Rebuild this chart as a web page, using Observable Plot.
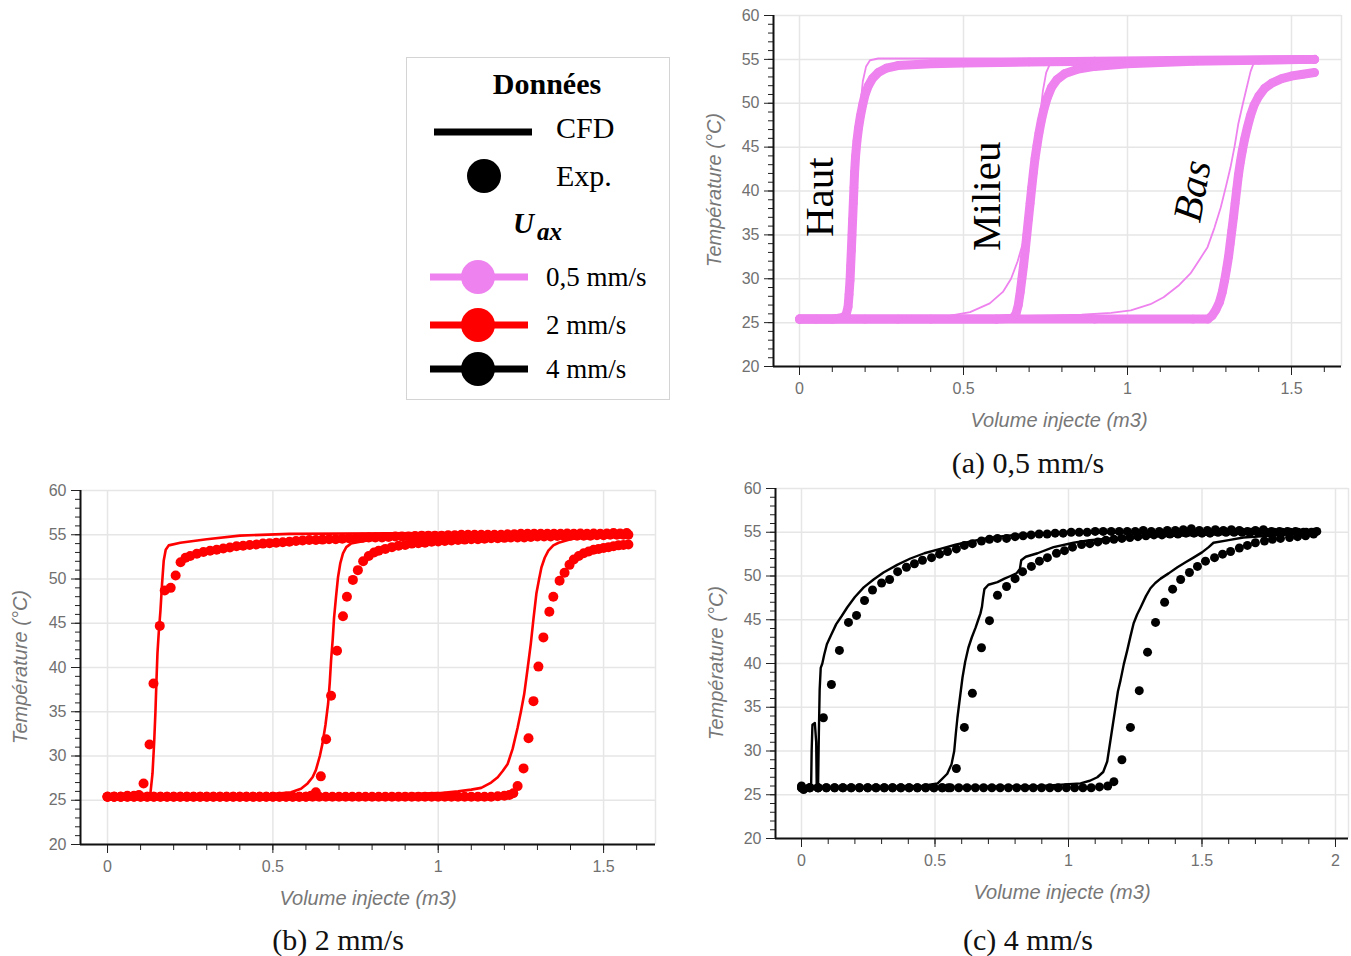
<!DOCTYPE html>
<html>
<head>
<meta charset="utf-8">
<script src="https://cdn.jsdelivr.net/npm/d3@7"></script>
<script src="https://cdn.jsdelivr.net/npm/@observablehq/plot@0.6"></script>
<style>
  body { margin: 0; background: #fff; }
  #root { position: relative; width: 1351px; height: 956px; overflow: hidden; background: #fff; }
  .pane { position: absolute; }
  .atitle { position: absolute; font-family: "Liberation Sans", Arial, sans-serif; font-style: italic; font-size: 20px; color: #777; white-space: nowrap; transform: translate(-50%, -50%); }
  .ytitle { transform: translate(-50%, -50%) rotate(-90deg); }
  .cap { position: absolute; font-family: "Liberation Serif", "Times New Roman", serif; font-size: 30px; color: #111; white-space: nowrap; transform: translate(-50%, -50%); }
</style>
</head>
<body>
<div id="root"></div>
<script>
// ---------------- DATA ----------------
const positions = ["Haut", "Milieu", "Bas"];
const yTicks = [20, 25, 30, 35, 40, 45, 50, 55, 60];
const yMinor = [20,21,22,23,24,25,26,27,28,29,30,31,32,33,34,35,36,37,38,39,40,41,42,43,44,45,46,47,48,49,50,51,52,53,54,55,56,57,58,59,60];
const xTicksAB = [0, 0.5, 1, 1.5];
const xMinorAB = [0,0.1,0.2,0.3,0.4,0.5,0.6,0.7,0.8,0.9,1,1.1,1.2,1.3,1.4,1.5,1.6];
const xTicksC = [0, 0.5, 1, 1.5, 2];
const xMinorC = [0,0.1,0.2,0.3,0.4,0.5,0.6,0.7,0.8,0.9,1,1.1,1.2,1.3,1.4,1.5,1.6,1.7,1.8,1.9,2];

// (a) 0,5 mm/s  — [volume injecte (m3), temperature (°C)]
const aHautCfd = [[0,25.7],[0.05,25.7],[0.1,25.8],[0.13,26],[0.145,26.6],[0.155,28],[0.162,32],[0.168,37],[0.173,41.5],[0.178,45.5],[0.185,49.5],[0.193,52.5],[0.203,54.2],[0.215,54.9],[0.24,55.1],[0.5,55.1],[1,55.1],[1.57,55.1]];
const aHautExp = [[0,25.4],[0.05,25.4],[0.1,25.4],[0.13,25.5],[0.142,25.9],[0.148,26.8],[0.151,28.2],[0.154,29.8],[0.156,31.5],[0.158,33.2],[0.16,35],[0.162,36.8],[0.164,38.6],[0.166,40.4],[0.168,42.2],[0.171,44],[0.175,45.7],[0.18,47.2],[0.186,48.6],[0.193,49.9],[0.2,51],[0.21,52],[0.222,52.8],[0.24,53.5],[0.265,54],[0.3,54.3],[0.4,54.5],[0.5,54.6],[0.7,54.7],[0.9,54.8],[1.2,54.9],[1.57,55]];
const aMilieuCfd = [[0,25.7],[0.3,25.7],[0.46,25.8],[0.52,26.2],[0.58,27.2],[0.62,28.5],[0.645,30],[0.665,32],[0.683,34.3],[0.697,37.5],[0.71,41],[0.722,44.5],[0.732,48],[0.742,51.4],[0.752,53.5],[0.765,54.6],[0.78,55],[0.85,55.1],[1.2,55.1],[1.57,55.1]];
const aMilieuExp = [[0,25.4],[0.2,25.4],[0.4,25.4],[0.6,25.4],[0.65,25.5],[0.66,26],[0.667,27],[0.673,28.5],[0.678,30],[0.683,31.5],[0.688,33.2],[0.693,35],[0.698,36.8],[0.703,38.6],[0.708,40.4],[0.713,42.1],[0.718,43.7],[0.724,45.2],[0.73,46.6],[0.737,48],[0.745,49.3],[0.755,50.6],[0.768,51.8],[0.785,52.7],[0.81,53.4],[0.85,53.9],[0.9,54.2],[1,54.5],[1.2,54.8],[1.4,54.9],[1.57,55]];
const aBasCfd = [[0,25.7],[0.6,25.7],[0.86,25.9],[0.95,26.1],[1.01,26.4],[1.07,27.1],[1.11,27.9],[1.155,29.2],[1.192,30.6],[1.22,32.2],[1.244,33.6],[1.265,35.8],[1.284,38.1],[1.3,40.5],[1.314,42.7],[1.327,45.2],[1.338,47.7],[1.352,50],[1.366,52.2],[1.375,53.6],[1.385,54.6],[1.4,55],[1.57,55.1]];
const aBasExp = [[0,25.4],[0.3,25.4],[0.6,25.4],[0.9,25.4],[1.2,25.4],[1.245,25.4],[1.258,25.8],[1.27,26.5],[1.28,27.3],[1.289,28.5],[1.296,29.8],[1.302,31.1],[1.308,32.5],[1.313,34],[1.318,35.5],[1.323,37],[1.328,38.6],[1.333,40.2],[1.338,41.8],[1.344,43.3],[1.35,44.6],[1.357,45.9],[1.365,47.2],[1.375,48.6],[1.386,49.8],[1.4,50.8],[1.418,51.7],[1.44,52.3],[1.47,52.8],[1.5,53.1],[1.535,53.3],[1.57,53.5]];
const aLabelNames = ["Haut", "Milieu", "Bas"];
const aLabelVol = [0.061, 0.570, 1.198];
const aLabelTemp = [39.3, 39.4, 40.0];
const aLabelAngle = [-90, -90, -80];
const aLabelStyle = ["normal", "normal", "italic"];

// (b) 2 mm/s
const bHautCfd = [[0,25.6],[0.08,25.6],[0.12,25.7],[0.13,25.9],[0.136,28],[0.141,31.5],[0.145,35.1],[0.148,38.5],[0.151,41.6],[0.155,44],[0.16,46.4],[0.165,49.5],[0.17,52.1],[0.176,53.3],[0.185,53.8],[0.22,54.1],[0.3,54.5],[0.4,54.9],[0.55,55.1],[1,55.2],[1.57,55.2]];
const bHautExp = [[0,25.4],[0.02,25.4],[0.04,25.4],[0.06,25.5],[0.08,25.5],[0.095,25.6],[0.109,26.9],[0.127,31.3],[0.139,38.2],[0.158,44.7],[0.173,48.7],[0.191,49],[0.206,50.4],[0.221,51.9],[0.236,52.4],[0.25,52.6],[0.27,52.85],[0.29,53.05],[0.31,53.2],[0.33,53.3],[0.35,53.45],[0.37,53.55],[0.39,53.7],[0.41,53.75],[0.43,53.85],[0.45,53.9],[0.47,54],[0.49,54.05],[0.51,54.1],[0.53,54.15],[0.55,54.2],[0.57,54.3],[0.59,54.35],[0.61,54.4],[0.63,54.4],[0.65,54.45],[0.67,54.5],[0.69,54.5],[0.71,54.55],[0.73,54.6],[0.75,54.6],[0.77,54.65],[0.79,54.7],[0.81,54.7],[0.83,54.7],[0.85,54.75],[0.87,54.8],[0.89,54.8],[0.91,54.8],[0.93,54.85],[0.95,54.9],[0.97,54.9],[0.99,54.9],[1.01,54.9],[1.03,54.95],[1.05,54.95],[1.07,55],[1.09,55],[1.11,55],[1.13,55],[1.15,55],[1.17,55],[1.19,55],[1.21,55.05],[1.23,55.05],[1.25,55.1],[1.27,55.1],[1.29,55.1],[1.31,55.1],[1.33,55.1],[1.35,55.1],[1.37,55.1],[1.39,55.15],[1.41,55.1],[1.43,55.15],[1.45,55.1],[1.47,55.15],[1.49,55.1],[1.51,55.15],[1.53,55.2],[1.55,55.15],[1.57,55.2]];
const bMilieuCfd = [[0,25.6],[0.3,25.6],[0.5,25.7],[0.555,25.9],[0.585,26.3],[0.605,26.9],[0.62,27.6],[0.63,28.4],[0.642,30],[0.65,31.4],[0.659,33.5],[0.667,35.9],[0.672,38.3],[0.676,40.8],[0.681,43.2],[0.685,45.6],[0.691,48],[0.697,50.2],[0.704,51.8],[0.712,52.9],[0.722,53.6],[0.736,54],[0.776,54.3],[0.85,54.6],[1,54.9],[1.2,55.1],[1.57,55.2]];
const bMilieuExp = [[0,25.4],[0.02,25.4],[0.04,25.4],[0.06,25.4],[0.08,25.4],[0.1,25.4],[0.12,25.4],[0.14,25.4],[0.16,25.4],[0.18,25.4],[0.2,25.4],[0.22,25.4],[0.24,25.4],[0.26,25.4],[0.28,25.4],[0.3,25.4],[0.32,25.4],[0.34,25.4],[0.36,25.4],[0.38,25.4],[0.4,25.4],[0.42,25.4],[0.44,25.4],[0.46,25.4],[0.48,25.4],[0.5,25.4],[0.52,25.4],[0.54,25.4],[0.56,25.4],[0.58,25.4],[0.6,25.4],[0.615,25.5],[0.63,25.9],[0.645,27.7],[0.661,31.9],[0.676,36.8],[0.694,41.9],[0.712,45.8],[0.724,48],[0.742,49.9],[0.757,51],[0.773,52],[0.79,52.6],[0.806,53],[0.82,53.2],[0.84,53.4],[0.86,53.6],[0.88,53.75],[0.9,53.85],[0.92,54],[0.94,54.05],[0.96,54.1],[0.98,54.2],[1,54.25],[1.02,54.3],[1.04,54.35],[1.06,54.4],[1.08,54.45],[1.1,54.5],[1.12,54.5],[1.14,54.55],[1.16,54.6],[1.18,54.6],[1.2,54.65],[1.22,54.7],[1.24,54.7],[1.26,54.7],[1.28,54.75],[1.3,54.8],[1.32,54.8],[1.34,54.8],[1.36,54.85],[1.38,54.85],[1.4,54.9],[1.42,54.9],[1.44,54.9],[1.46,54.9],[1.48,54.95],[1.5,54.95],[1.52,55],[1.54,55],[1.56,55],[1.575,55]];
const bBasCfd = [[0,25.6],[0.6,25.6],[0.9,25.7],[1,25.8],[1.06,26],[1.1,26.2],[1.13,26.4],[1.16,27],[1.18,27.6],[1.195,28.3],[1.21,29.1],[1.225,30.8],[1.24,33.2],[1.25,35],[1.26,37],[1.27,39.8],[1.28,42.7],[1.288,45.5],[1.297,48.4],[1.305,50],[1.312,51.3],[1.322,52.4],[1.333,53.2],[1.348,53.8],[1.364,54.1],[1.4,54.5],[1.45,54.8],[1.57,55]];
const bBasExp = [[0,25.4],[0.02,25.4],[0.04,25.4],[0.06,25.4],[0.08,25.4],[0.1,25.4],[0.12,25.4],[0.14,25.4],[0.16,25.4],[0.18,25.4],[0.2,25.4],[0.22,25.4],[0.24,25.4],[0.26,25.4],[0.28,25.4],[0.3,25.4],[0.32,25.4],[0.34,25.4],[0.36,25.4],[0.38,25.4],[0.4,25.4],[0.42,25.4],[0.44,25.4],[0.46,25.4],[0.48,25.4],[0.5,25.4],[0.52,25.4],[0.54,25.4],[0.56,25.4],[0.58,25.4],[0.6,25.4],[0.62,25.4],[0.64,25.4],[0.66,25.4],[0.68,25.4],[0.7,25.4],[0.72,25.4],[0.74,25.4],[0.76,25.4],[0.78,25.4],[0.8,25.4],[0.82,25.4],[0.84,25.4],[0.86,25.4],[0.88,25.4],[0.9,25.4],[0.92,25.4],[0.94,25.4],[0.96,25.4],[0.98,25.4],[1,25.4],[1.02,25.4],[1.04,25.4],[1.06,25.4],[1.08,25.4],[1.1,25.4],[1.12,25.4],[1.14,25.4],[1.16,25.4],[1.18,25.45],[1.2,25.5],[1.215,25.6],[1.227,25.8],[1.24,26.6],[1.258,28.6],[1.273,32],[1.288,36.2],[1.303,40.1],[1.318,43.4],[1.336,46.3],[1.348,48],[1.367,49.8],[1.382,50.7],[1.397,51.6],[1.41,52.2],[1.425,52.6],[1.44,52.9],[1.455,53.1],[1.47,53.3],[1.485,53.4],[1.5,53.5],[1.515,53.6],[1.53,53.7],[1.545,53.8],[1.56,53.85],[1.575,53.9]];

// (c) 4 mm/s
const cHautCfd = [[0,25.9],[0.036,25.9],[0.038,30],[0.041,33],[0.05,33.2],[0.055,31],[0.057,26],[0.062,25.9],[0.065,32],[0.068,37],[0.072,39.5],[0.078,40],[0.085,41],[0.095,42.2],[0.11,43.2],[0.13,44.5],[0.15,45.4],[0.171,46.4],[0.2,47.6],[0.233,48.7],[0.27,49.6],[0.307,50.4],[0.36,51.3],[0.408,52],[0.46,52.6],[0.52,53.1],[0.58,53.6],[0.644,54],[0.7,54.35],[0.77,54.6],[0.85,54.8],[1,54.95],[1.3,55],[1.6,55],[1.93,55]];
const cHautExp = [[0,26],[0.008,25.6],[0.031,25.8],[0.062,25.8],[0.082,33.8],[0.112,37.6],[0.142,41.5],[0.176,44.7],[0.206,45.5],[0.236,47.2],[0.266,48.4],[0.3,49.2],[0.33,49.6],[0.36,50.5],[0.393,51],[0.423,51.4],[0.453,51.8],[0.487,52.1],[0.517,52.5],[0.547,52.8],[0.58,53.1],[0.61,53.5],[0.64,53.7],[0.674,54],[0.704,54.2],[0.734,54.3],[0.768,54.3],[0.8,54.5],[0.83,54.6],[0.86,54.7],[0.89,54.8],[0.92,54.8],[0.95,54.9],[0.98,54.9],[1.01,55],[1.04,55],[1.07,55],[1.1,55.1],[1.13,55.1],[1.16,55.1],[1.19,55.1],[1.22,55.1],[1.25,55.1],[1.28,55.2],[1.31,55.1],[1.34,55.1],[1.37,55.2],[1.4,55.2],[1.43,55.3],[1.46,55.4],[1.49,55.2],[1.52,55.2],[1.55,55.3],[1.58,55.2],[1.61,55.3],[1.64,55.2],[1.67,55.1],[1.7,55.2],[1.73,55.3],[1.76,55.1],[1.79,55.1],[1.82,55.1],[1.85,55.1],[1.88,55],[1.91,55],[1.93,55.1]];
const cMilieuCfd = [[0,25.9],[0.3,25.9],[0.45,26],[0.51,26.3],[0.546,27.4],[0.562,28.5],[0.572,30],[0.578,32],[0.584,33.8],[0.593,36],[0.603,38.4],[0.613,40.2],[0.625,41.8],[0.638,43],[0.652,44.1],[0.662,45],[0.67,45.7],[0.676,46.5],[0.68,47.5],[0.685,48.5],[0.7,49],[0.734,49.3],[0.76,49.7],[0.783,50],[0.805,50.3],[0.818,50.8],[0.823,51.8],[0.84,52.2],[0.884,52.6],[0.944,53.3],[1.019,53.8],[1.08,54.1],[1.2,54.4],[1.4,54.6],[1.6,54.8],[1.93,54.9]];
const cMilieuExp = [[0,25.8],[0.031,25.8],[0.062,25.8],[0.093,25.8],[0.124,25.8],[0.155,25.8],[0.186,25.8],[0.217,25.8],[0.248,25.8],[0.279,25.8],[0.31,25.8],[0.341,25.8],[0.372,25.8],[0.403,25.8],[0.434,25.8],[0.465,25.8],[0.496,25.8],[0.527,25.8],[0.55,25.8],[0.58,28],[0.61,32.7],[0.64,36.6],[0.674,41.8],[0.704,44.9],[0.734,47.8],[0.768,48.8],[0.8,49.7],[0.828,50.5],[0.861,51.1],[0.891,51.7],[0.921,52.1],[0.955,52.6],[0.985,52.9],[1.015,53.3],[1.049,53.6],[1.08,53.7],[1.11,53.9],[1.14,54.1],[1.17,54.2],[1.2,54.3],[1.23,54.4],[1.26,54.5],[1.29,54.6],[1.32,54.7],[1.35,54.7],[1.38,54.8],[1.41,54.8],[1.44,54.9],[1.47,54.9],[1.5,54.9],[1.53,54.9],[1.56,55],[1.59,55],[1.62,55],[1.65,55],[1.68,55],[1.71,55],[1.74,55],[1.77,55],[1.8,55],[1.83,55],[1.86,55],[1.89,55],[1.92,55]];
const cBasCfd = [[0,25.9],[0.5,25.9],[0.9,26],[1.045,26.3],[1.08,26.6],[1.108,27],[1.13,27.6],[1.145,28.8],[1.157,31.2],[1.166,33],[1.176,35],[1.185,36.8],[1.195,38.1],[1.207,39.9],[1.22,41.5],[1.232,43.1],[1.244,44.6],[1.257,45.6],[1.27,46.4],[1.29,47.7],[1.307,48.6],[1.325,49.2],[1.345,49.7],[1.375,50.3],[1.408,51],[1.44,51.6],[1.468,52.1],[1.5,52.7],[1.525,53.3],[1.543,53.8],[1.6,54.1],[1.655,54.4],[1.75,54.6],[1.85,54.8],[1.93,54.9]];
const cBasExp = [[0,25.8],[0.031,25.8],[0.062,25.8],[0.093,25.8],[0.124,25.8],[0.155,25.8],[0.186,25.8],[0.217,25.8],[0.248,25.8],[0.279,25.8],[0.31,25.8],[0.341,25.8],[0.372,25.8],[0.403,25.8],[0.434,25.8],[0.465,25.8],[0.496,25.8],[0.527,25.8],[0.558,25.8],[0.589,25.8],[0.62,25.8],[0.651,25.8],[0.682,25.8],[0.713,25.8],[0.744,25.8],[0.775,25.8],[0.806,25.8],[0.837,25.8],[0.868,25.8],[0.899,25.8],[0.93,25.8],[0.961,25.8],[0.992,25.8],[1.023,25.8],[1.054,25.8],[1.085,25.8],[1.116,25.9],[1.147,26],[1.17,26.5],[1.2,29],[1.232,32.7],[1.265,36.9],[1.296,41.3],[1.326,44.7],[1.36,47],[1.39,48.5],[1.42,49.6],[1.453,50.4],[1.483,51.1],[1.513,51.7],[1.547,52.1],[1.577,52.5],[1.607,52.8],[1.64,53.2],[1.67,53.5],[1.7,53.8],[1.734,54],[1.764,54.2],[1.794,54.3],[1.828,54.4],[1.858,54.5],[1.888,54.6],[1.918,54.8]];

// legend
const legendSpeeds = ["0,5 mm/s", "2 mm/s", "4 mm/s"];
const speedColors = ["#EE82EE", "#FF0000", "#000000"];

// ---------------- DRAWING ----------------
const root = document.getElementById("root");

function rows(series) {
  return series.flatMap(s => s.pts.map(([v, t]) => ({vol: v, temp: t, pos: s.name})));
}

function panel(cfg) {
  const cfd = rows(cfg.cfd.map((pts, i) => ({name: positions[i], pts})));
  const exp = rows(cfg.exp.map((pts, i) => ({name: positions[i], pts})));
  const gridStyle = {stroke: "#e6e6e6", strokeOpacity: 1, strokeWidth: 1.5};
  const marks = [
    Plot.gridY(yTicks, gridStyle),
    Plot.gridX(cfg.xTicks, gridStyle),
    Plot.ruleX([cfg.xDomain[1]], gridStyle)
  ];
  if (cfg.band) {
    marks.push(Plot.line(exp, {x: "vol", y: "temp", z: "pos", stroke: cfg.color, strokeWidth: cfg.band, strokeLinecap: "round", strokeLinejoin: "round"}));
  }
  marks.push(Plot.dot(exp, {x: "vol", y: "temp", r: cfg.r, fill: cfg.color}));
  marks.push(Plot.line(cfd, {x: "vol", y: "temp", z: "pos", stroke: cfg.color, strokeWidth: cfg.cfdWidth, strokeLinejoin: "round"}));
  if (cfg.labels) {
    const lab = cfg.labels.names.map((n, i) => ({name: n, vol: cfg.labels.vol[i], temp: cfg.labels.temp[i], angle: cfg.labels.angle[i], style: cfg.labels.style[i]}));
    for (const st of ["normal", "italic"]) {
      marks.push(Plot.text(lab.filter(d => d.style === st), {x: "vol", y: "temp", text: "name", rotate: "angle", fontSize: 41, fontFamily: "Liberation Serif, Times New Roman, serif", fontStyle: st, fill: "#000", textAnchor: "middle", lineAnchor: "middle"}));
    }
  }
  marks.push(
    Plot.axisY(yMinor, {anchor: "left", tickSize: 5, tickFormat: () => "", stroke: "#222", label: null}),
    Plot.axisY(yTicks, {anchor: "left", tickSize: 9, tickPadding: 5, tickFormat: d => String(d), stroke: "#222", fill: "#707070", fontSize: 16, label: null}),
    Plot.axisX(cfg.xMinor, {anchor: "bottom", tickSize: 6, tickFormat: () => "", stroke: "#222", label: null}),
    Plot.axisX(cfg.xTicks, {anchor: "bottom", tickSize: 9, tickPadding: 7, tickFormat: d => String(d), stroke: "#222", fill: "#707070", fontSize: 16, label: null}),
    Plot.ruleX([cfg.xDomain[0]], {stroke: "#111", strokeWidth: 2}),
    Plot.ruleY([yTicks[0]], {stroke: "#111", strokeWidth: 2})
  );
  const svg = Plot.plot({
    width: cfg.width, height: cfg.height,
    marginTop: cfg.mt, marginBottom: cfg.mb, marginLeft: cfg.ml, marginRight: cfg.mr,
    x: {domain: cfg.xDomain, label: null},
    y: {domain: [yTicks[0], yTicks[yTicks.length - 1]], label: null},
    style: {fontFamily: "Liberation Sans, Arial, sans-serif", fontSize: "16px", background: "transparent", overflow: "visible"},
    marks
  });
  const div = document.createElement("div");
  div.className = "pane";
  div.style.left = cfg.left + "px";
  div.style.top = cfg.top + "px";
  div.style.width = cfg.width + "px";
  div.style.height = cfg.height + "px";
  div.appendChild(svg);
  root.appendChild(div);
}

function addText(cls, text, x, y) {
  const d = document.createElement("div");
  d.className = cls;
  d.textContent = text;
  d.style.left = x + "px";
  d.style.top = y + "px";
  root.appendChild(d);
}

// (a)
panel({left: 700, top: 0, width: 651, height: 440, mt: 15, mb: 74, ml: 73, mr: 10,
  xDomain: [-0.0793, 1.6524], xTicks: xTicksAB, xMinor: xMinorAB, color: speedColors[0],
  r: 4.3, band: 9, cfdWidth: 1.8,
  cfd: [aHautCfd, aMilieuCfd, aBasCfd], exp: [aHautExp, aMilieuExp, aBasExp],
  labels: {names: aLabelNames, vol: aLabelVol, temp: aLabelTemp, angle: aLabelAngle, style: aLabelStyle}});
// (b)
panel({left: 0, top: 470, width: 670, height: 450, mt: 20, mb: 76, ml: 80, mr: 15,
  xDomain: [-0.0817, 1.657], xTicks: xTicksAB, xMinor: xMinorAB, color: speedColors[1],
  r: 5, band: 0, cfdWidth: 2.6,
  cfd: [bHautCfd, bMilieuCfd, bBasCfd], exp: [bHautExp, bMilieuExp, bBasExp]});
// (c)
panel({left: 700, top: 470, width: 651, height: 450, mt: 18, mb: 82, ml: 75, mr: 3,
  xDomain: [-0.0974, 2.0487], xTicks: xTicksC, xMinor: xMinorC, color: speedColors[2],
  r: 4.5, band: 0, cfdWidth: 2.4,
  cfd: [cHautCfd, cMilieuCfd, cBasCfd], exp: [cHautExp, cMilieuExp, cBasExp]});

// axis titles
addText("atitle", "Volume injecte (m3)", 1059, 420);
addText("atitle ytitle", "Température (°C)", 714, 190);
addText("atitle", "Volume injecte (m3)", 368, 898);
addText("atitle ytitle", "Température (°C)", 20, 667);
addText("atitle", "Volume injecte (m3)", 1062, 892);
addText("atitle ytitle", "Température (°C)", 716, 663);

// captions
addText("cap", "(a) 0,5 mm/s", 1028, 463);
addText("cap", "(b) 2 mm/s", 338, 940);
addText("cap", "(c) 4 mm/s", 1028, 940);

// legend box
const ns = "http://www.w3.org/2000/svg";
const leg = document.createElementNS(ns, "svg");
leg.setAttribute("width", 265);
leg.setAttribute("height", 344);
leg.style.position = "absolute";
leg.style.left = "406px";
leg.style.top = "57px";
root.appendChild(leg);
function el(tag, attrs, text) {
  const e = document.createElementNS(ns, tag);
  for (const k in attrs) e.setAttribute(k, attrs[k]);
  if (text != null) e.textContent = text;
  leg.appendChild(e);
  return e;
}
const serif = "Liberation Serif, Times New Roman, serif";
el("rect", {x: 0.5, y: 0.5, width: 263, height: 342, fill: "#fff", stroke: "#d4d4d4", "stroke-width": 1});
el("text", {x: 141, y: 26, "text-anchor": "middle", "dominant-baseline": "central", "font-family": serif, "font-size": 30, "font-weight": "bold", fill: "#000"}, "Données");
el("line", {x1: 28, x2: 126, y1: 75, y2: 75, stroke: "#000", "stroke-width": 7});
el("text", {x: 150, y: 70, "dominant-baseline": "central", "font-family": serif, "font-size": 30, fill: "#000"}, "CFD");
el("circle", {cx: 78, cy: 119, r: 17, fill: "#000"});
el("text", {x: 150, y: 118, "dominant-baseline": "central", "font-family": serif, "font-size": 30, fill: "#000"}, "Exp.");
const ut = el("text", {x: 107, y: 166, "dominant-baseline": "central", "font-family": serif, "font-size": 29, "font-weight": "bold", "font-style": "italic", fill: "#000"});
const t1 = document.createElementNS(ns, "tspan"); t1.textContent = "U"; ut.appendChild(t1);
const t2 = document.createElementNS(ns, "tspan"); t2.textContent = "ax"; t2.setAttribute("dy", 8); t2.setAttribute("dx", 3); t2.setAttribute("font-size", 25); ut.appendChild(t2);
const legY = [220, 268, 312];
legendSpeeds.forEach((s, i) => {
  el("line", {x1: 24, x2: 122, y1: legY[i], y2: legY[i], stroke: speedColors[i], "stroke-width": 7});
  el("circle", {cx: 72, cy: legY[i], r: 17, fill: speedColors[i]});
  el("text", {x: 140, y: legY[i], "dominant-baseline": "central", "font-family": serif, "font-size": 27, fill: "#000"}, s);
});
</script>
</body>
</html>
